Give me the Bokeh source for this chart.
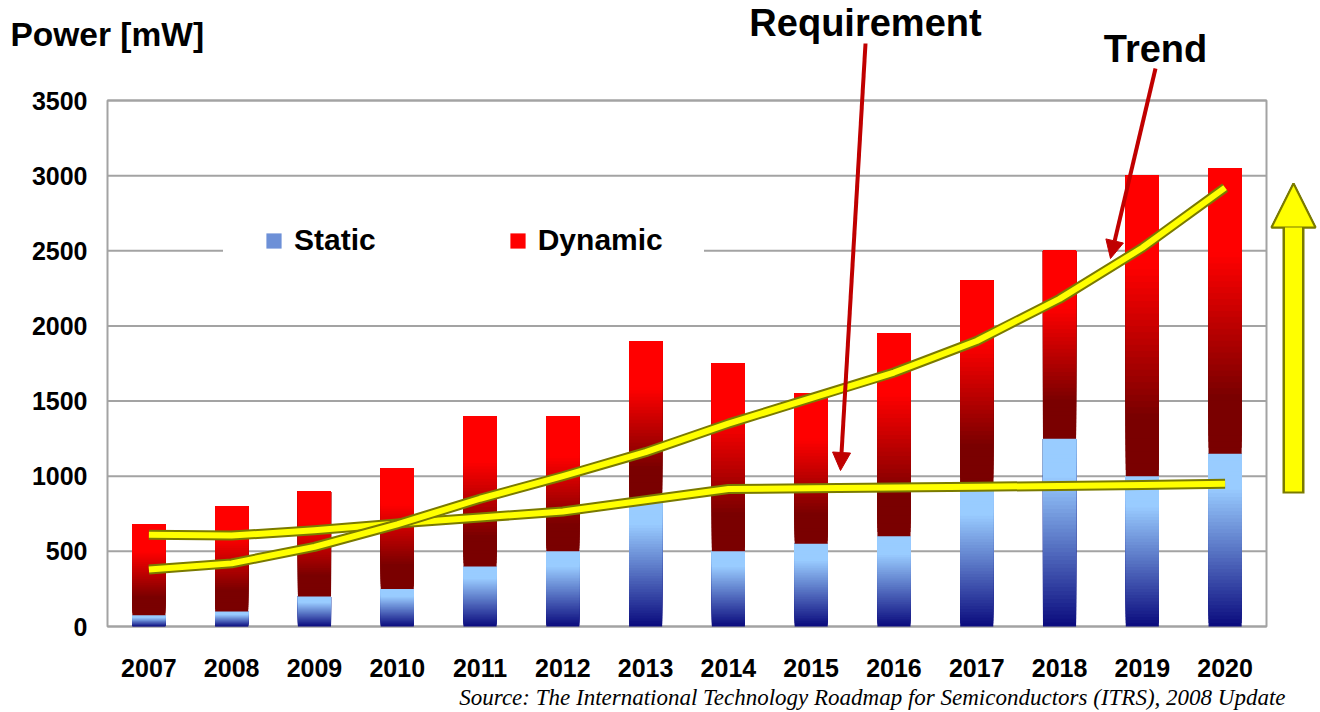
import numpy as np
from bokeh.plotting import figure
from bokeh.models import (Range1d, Legend, LegendItem, Label, Arrow, NormalHead, ColumnDataSource)
from bokeh.core.properties import value
from bokeh.embed import file_html
from bokeh.resources import INLINE

# ---------------- data ----------------
years = ["2007", "2008", "2009", "2010", "2011", "2012", "2013",
         "2014", "2015", "2016", "2017", "2018", "2019", "2020"]
static = [75, 100, 200, 250, 400, 500, 850, 500, 550, 600, 930, 1250, 1000, 1150]
dynamic = [605, 700, 700, 800, 1000, 900, 1050, 1250, 1000, 1350, 1370, 1250, 2000, 1900]
requirement = [610, 605, 640, 685, 725, 765, 840, 915, 920, 925, 930, 935, 942, 950]
trend = [380, 420, 530, 680, 850, 1000, 1160, 1350, 1520, 1690, 1900, 2180, 2520, 2920]
y_ticks = [0, 500, 1000, 1500, 2000, 2500, 3000, 3500]

FONT = "Liberation Sans"
W, H = 1320, 712
# plot-area placement on the canvas (pixels)
PL, PR, PT, PB = 107, 1266, 100, 626

n = len(years)
xlo, xhi = -0.5, n - 0.5
ylo, yhi = 0, y_ticks[-1]
ux = (PR - PL) / (xhi - xlo)      # px per x unit
uy = (PB - PT) / (yhi - ylo)      # px per y unit

p = figure(width=W, height=H, output_backend="svg", toolbar_location=None,
           x_range=Range1d(xlo - PL / ux, xhi + (W - PR) / ux),
           y_range=Range1d(ylo - (H - PB) / uy, yhi + PT / uy),
           min_border=0)
p.axis.visible = False
p.grid.visible = False
p.outline_line_color = None
p.background_fill_color = "white"
p.border_fill_color = "white"


def X(px):
    return xlo + (px - PL) / ux


def Y(py):
    return ylo + (PB - py) / uy


xs = np.arange(n)
bar_w = 0.4
GRID = "#A3A3A3"

# gridlines and plot-area frame
p.segment(x0=[xlo] * len(y_ticks), x1=[xhi] * len(y_ticks), y0=y_ticks, y1=y_ticks,
          line_color=GRID, line_width=2)
p.quad(left=[xlo], right=[xhi], bottom=[ylo], top=[yhi], fill_color=None,
       line_color=GRID, line_width=2)


def lerp(c1, c2, t):
    return "#%02x%02x%02x" % tuple(int(round(a + (b - a) * t)) for a, b in zip(c1, c2))


N = 48
navy, light = (10, 10, 125), (153, 204, 255)
dark, bright = (122, 0, 0), (255, 0, 0)
S = dict(left=[], right=[], bottom=[], top=[], color=[])
D = dict(left=[], right=[], bottom=[], top=[], color=[])
for i, x in enumerate(xs):
    s = static[i]
    d = dynamic[i]
    for k in range(N):
        t = (k + 0.5) / N
        S["left"].append(x - bar_w / 2); S["right"].append(x + bar_w / 2)
        S["bottom"].append(s * k / N); S["top"].append(s)
        S["color"].append(lerp(navy, light, min(1.0, t / 0.8)))
    for k in range(N):
        t = (k + 0.5) / N
        D["left"].append(x - bar_w / 2); D["right"].append(x + bar_w / 2)
        D["bottom"].append(s + d * k / N); D["top"].append(s + d)
        D["color"].append(lerp(dark, bright, min(1.0, max(0.0, (t - 0.2) / 0.5))))

r_static = p.quad(left="left", right="right", bottom="bottom", top="top", fill_color="color",
                  line_color=None, source=ColumnDataSource(S))
r_dyn = p.quad(left="left", right="right", bottom="bottom", top="top", fill_color="color",
               line_color=None, source=ColumnDataSource(D))

# lines
for vals in (requirement, trend):
    p.line(xs, vals, line_color="#7A7A00", line_width=10, line_join="round", line_cap="butt")
    p.line(xs, vals, line_color="#FFFF00", line_width=6, line_join="round", line_cap="butt")

# tick labels
p.text(x=[xlo] * len(y_ticks), y=y_ticks, text=[str(v) for v in y_ticks], x_offset=-20,
       text_align="right", text_baseline="middle", text_font=value(FONT),
       text_font_style="bold", text_font_size=value("25px"), text_color="black")
p.text(x=xs, y=[ylo] * n, text=years, y_offset=41, text_align="center", text_baseline="middle",
       text_font=value(FONT), text_font_style="bold", text_font_size=value("25px"),
       text_color="black")

# legend
legend = Legend(items=[LegendItem(label="Static", renderers=[r_static], index=int(N * 0.55)),
                       LegendItem(label="Dynamic", renderers=[r_dyn], index=N + int(N * 0.75))],
                orientation="horizontal", location=(223, 414),
                label_text_font=FONT, label_text_font_style="bold", label_text_font_size="30px",
                label_text_color="black", glyph_width=19, glyph_height=19, label_standoff=11,
                spacing=132, padding=40, margin=0, border_line_color="white",
                background_fill_color="white", background_fill_alpha=1.0)
p.add_layout(legend, "center")

# texts
p.add_layout(Label(x=X(10), y=Y(34), text="Power [mW]", text_font=FONT, text_font_style="bold",
                   text_font_size="33.5px", text_baseline="middle", text_align="left", text_color="black"))
p.add_layout(Label(x=X(865), y=Y(22), text="Requirement", text_font=FONT, text_font_style="bold",
                   text_font_size="38px", text_baseline="middle", text_align="center", text_color="black"))
p.add_layout(Label(x=X(1155), y=Y(48), text="Trend", text_font=FONT, text_font_style="bold",
                   text_font_size="38px", text_baseline="middle", text_align="center", text_color="black"))
p.add_layout(Label(x=X(1285), y=Y(697),
                   text="Source: The International Technology Roadmap for Semiconductors (ITRS), 2008 Update",
                   text_font="Liberation Serif", text_font_style="italic", text_font_size="23px",
                   text_baseline="middle", text_align="right", text_color="black"))

# red pointer arrows
red = "#C00000"
p.add_layout(Arrow(x_start=X(865), y_start=Y(43), x_end=X(840), y_end=Y(470), line_color=red,
                   line_width=4, end=NormalHead(size=18, fill_color=red, line_color=red)))
p.add_layout(Arrow(x_start=X(1155), y_start=Y(68), x_end=X(1110), y_end=Y(258), line_color=red,
                   line_width=4, end=NormalHead(size=18, fill_color=red, line_color=red)))

# big yellow arrow
p.add_layout(Arrow(x_start=X(1293), y_start=Y(493), x_end=X(1293), y_end=Y(183), line_color="#7A7A00",
                   line_width=22, line_cap="butt",
                   end=NormalHead(size=44, fill_color="#FFFF00", line_color="#7A7A00", line_width=2)))
p.add_layout(Arrow(x_start=X(1293), y_start=Y(491), x_end=X(1293), y_end=Y(183), line_color="#FFFF00",
                   line_width=17, line_cap="butt",
                   end=NormalHead(size=44, fill_color="#FFFF00", line_color="#7A7A00", line_width=2)))

open("out.html", "w").write(file_html(p, INLINE))
